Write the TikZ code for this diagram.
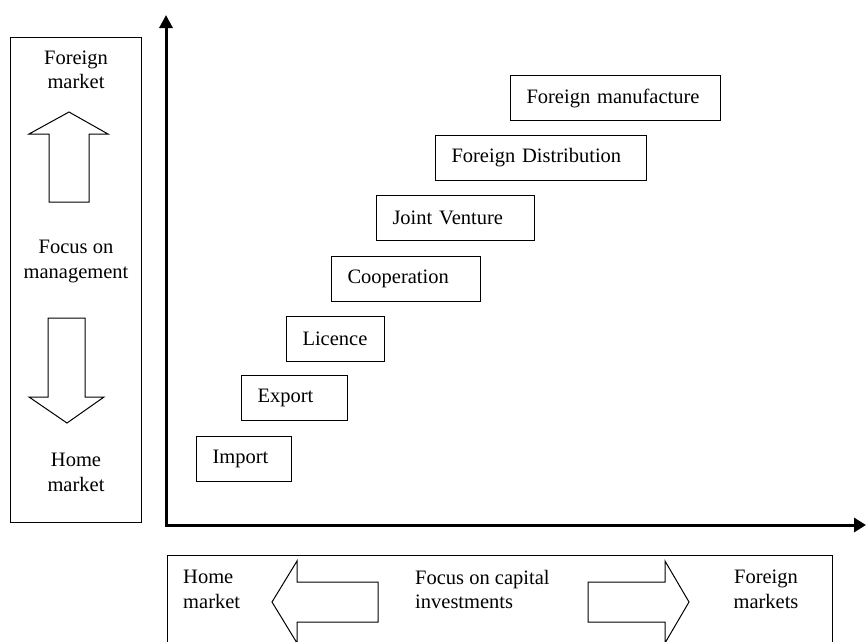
\documentclass[tikz,border=0pt]{standalone}
\usepackage{fontspec}
\setmainfont{Liberation Serif}
\usetikzlibrary{arrows.meta}
\tikzset{
  every node/.style = {font=\fontsize{20.5}{24.5}\selectfont, inner sep=0pt},
  stage/.style = {draw, line width=1pt, anchor=north west,
    minimum height=45pt, inner xsep=16pt, align=left},
  frame/.style = {draw, line width=1pt},
  block/.style = {draw, line width=1pt, line join=miter},
  axis/.style = {line width=3pt,
    {Triangle[length=13pt,width=13pt]}-{Triangle[length=12pt,width=14pt]}},
}

\begin{document}
\begin{tikzpicture}[x=1pt, y=-1pt]
  \useasboundingbox (0,0) rectangle (866,641);
  \clip (0,0) rectangle (866,641);

  % management side
  \draw[frame] (10,37) rectangle (141,522);
  \node[align=center] (mgmtfor) at (76,70) {Foreign\\market};
  \node[align=center] (mgmt) at (76,261.5) {Focus on\\management};
  \node[align=center] (mgmthome) at (76,472.5) {Home\\market};
  \draw[block] (49,202) -- (49,134) -- (29,134) -- (69,112)
      -- (108,134) -- (89,134) -- (89,202) -- cycle;
  \draw[block] (48,318) -- (85,318) -- (85,397) -- (104,397)
      -- (67,423) -- (29,397) -- (48,397) -- cycle;

  % axes
  \coordinate (origin) at (166,525);
  \coordinate (ytip) at (166,15);
  \coordinate (xtip) at (866,525);
  \draw[axis] (ytip) -- (origin) -- (xtip);

  % stages
  \node[stage, text width=63pt] (import) at (196,436) {Import};
  \node[stage, text width=74pt] (export) at (241,375) {Export};
  \node[stage, text width=66pt] (licence) at (286,316) {Licence};
  \node[stage, text width=117pt] (coop) at (331,256) {Cooperation};
  \node[stage, text width=126pt] (joint) at (376,195) {Joint Venture};
  \node[stage, text width=179pt] (distrib) at (435,135) {Foreign Distribution};
  \node[stage, text width=178pt] (manuf) at (510,75) {Foreign manufacture};

  % capital side
  \draw[frame] (167,555) rectangle (832,660);
  \node[align=left, anchor=west] (caphome) at (183,589.5) {Home\\market};
  \node[align=left, anchor=west] (cap) at (415,589.5) {Focus on capital\\investments};
  \node[align=center] (capfor) at (766,589.5) {Foreign\\markets};
  \draw[block] (378,582) -- (297,582) -- (297,561) -- (272,602)
      -- (297,643) -- (297,622) -- (378,622) -- cycle;
  \draw[block] (588,582) -- (665,582) -- (665,561) -- (689,602)
      -- (665,643) -- (665,622) -- (588,622) -- cycle;
\end{tikzpicture}
\end{document}
